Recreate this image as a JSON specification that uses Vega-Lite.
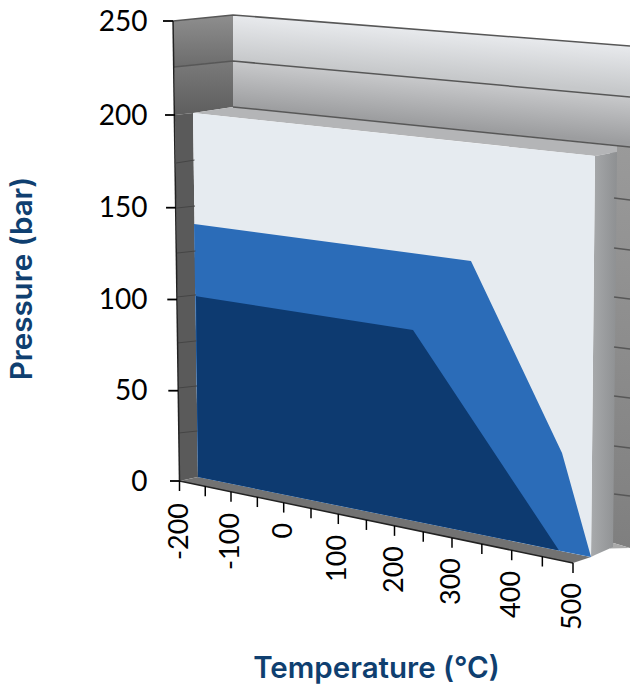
{
"$schema":"https://vega.github.io/schema/vega-lite/v6.json",
"width":630,"height":686,"padding":0,"autosize":"none",
"background":"white",
"config":{"view":{"stroke":null},"axis":{"grid":false}},
"datasets":{
"backUpper":[{"t":-96.2,"p":253.2,"p2":228.7},{"t":600,"p":236.7,"p2":209.6}],
"backLower":[{"t":-96.2,"p":228.7,"p2":204.3},{"t":600,"p":209.6,"p2":182.7}],
"backRight":[{"t":565,"p":183.9,"p2":-33},{"t":600,"p":182.7,"p2":-36.3}],
"backFloor":[{"t":565,"p":-33,"p2":-36.5},{"t":600,"p":-36.3,"p2":-36.3}],
"leftUpper":[{"t":-210.8,"p":250,"p2":250},{"t":-209.1,"p":250,"p2":225.5},{"t":-96.2,"p":253.2,"p2":228.7}],
"leftLower":[{"t":-209.1,"p":225.5,"p2":225.5},{"t":-207.5,"p":225.6,"p2":200},{"t":-173.8,"p":226.6,"p2":201.1},{"t":-96.2,"p":228.7,"p2":204.3}],
"leftStrip":[{"t":-207.5,"p":200,"p2":200},{"t":-200,"p":200.3,"p2":0},{"t":-173.8,"p":201.1,"p2":1.6},{"t":-164.1,"p":2.2,"p2":2.2}],
"topSurface":[{"t":-173.8,"p":201.1,"p2":201.1},{"t":-96.2,"p":204.3,"p2":198.8},{"t":538.6,"p":184.5,"p2":177.9},{"t":577.2,"p":183.3,"p2":180}],
"block":[{"t":531.6,"p":-41.1,"p2":-41.1},{"t":538.6,"p":177.9,"p2":-40.1},{"t":570.2,"p":179.7,"p2":-35.7},{"t":577.2,"p":180,"p2":180}],
"floor":[{"t":-200,"p":0,"p2":0},{"t":-164.1,"p":2.2,"p2":-2.1},{"t":500,"p":-39.2,"p2":-44.4},{"t":531.6,"p":-41.1,"p2":-41.1}],
"panel":[{"t":-173.8,"p":201.1,"p2":201.1},{"t":-164.1,"p":200.8,"p2":2.2},{"t":531.6,"p":178.1,"p2":-41.1},{"t":538.6,"p":177.9,"p2":177.9}],
"outerRegion":[{"t":-171.8,"p":141.1,"p2":141.1},{"t":-164.1,"p":140.8,"p2":2.2},{"t":331.8,"p":121,"p2":-27.9},{"t":482.1,"p":15.5,"p2":-38},{"t":531.6,"p":-41.1,"p2":-41.1}],
"innerRegion":[{"t":-168,"p":101.9,"p2":101.9},{"t":-164.1,"p":101.7,"p2":2.2},{"t":232.2,"p":83.3,"p2":-21.5},{"t":477.2,"p":-37.6,"p2":-37.6}],
"wallLines":[
{"id":"a","t":-210.8,"p":250},{"id":"a","t":-96.2,"p":253.2},{"id":"a","t":600,"p":236.7},
{"id":"b","t":-209.1,"p":225.5},{"id":"b","t":-96.2,"p":228.7},{"id":"b","t":600,"p":209.6},
{"id":"c","t":-96.2,"p":204.3},{"id":"c","t":600,"p":182.7},
{"id":"d","t":572,"p":155.2},{"id":"d","t":600,"p":154.2},
{"id":"e","t":572,"p":128},{"id":"e","t":600,"p":127},
{"id":"f","t":572,"p":101.4},{"id":"f","t":600,"p":100.3},
{"id":"g","t":572,"p":74},{"id":"g","t":600,"p":72.9},
{"id":"h","t":572,"p":47.1},{"id":"h","t":600,"p":46},
{"id":"i","t":572,"p":19.4},{"id":"i","t":600,"p":18.3},
{"id":"j","t":572,"p":-7},{"id":"j","t":600,"p":-8.1}],
"stripLines":[
{"id":"a","t":-205.8,"p":174.1},{"id":"a","t":-170.9,"p":175.7},
{"id":"b","t":-205,"p":149.8},{"id":"b","t":-169.9,"p":150.9},
{"id":"c","t":-204.2,"p":125.3},{"id":"c","t":-169,"p":126.4},
{"id":"d","t":-203.3,"p":101.4},{"id":"d","t":-168,"p":102.5},
{"id":"e","t":-202.5,"p":76.2},{"id":"e","t":-167,"p":77.3},
{"id":"f","t":-201.7,"p":51.5},{"id":"f","t":-166,"p":52.6},
{"id":"g","t":-200.8,"p":26.6},{"id":"g","t":-165,"p":27.7}],
"axisLines":[
{"id":"y","t":-210.8,"p":250},{"id":"y","t":-200,"p":0},
{"id":"x","t":-200,"p":0},{"id":"x","t":500,"p":-44.4}],
"pressureTicks":[
{"t":-227.6,"t2":-210.8,"p":250},{"t":-224.2,"t2":-207.5,"p":200},{"t":-222.5,"t2":-206.3,"p":150},
{"t":-220.4,"t2":-204.2,"p":100},{"t":-218.7,"t2":-202.5,"p":50},{"t":-215.9,"t2":-200,"p":0}],
"temperatureTicks":[
{"t":-200,"p":0,"p2":-5.4},{"t":-150,"p":-2.9,"p2":-8.3},{"t":-100,"p":-5.8,"p2":-11.2},{"t":-50,"p":-8.7,"p2":-14.1},
{"t":0,"p":-11.7,"p2":-17.1},{"t":50,"p":-14.8,"p2":-20.2},{"t":100,"p":-17.9,"p2":-23.3},{"t":150,"p":-21.1,"p2":-26.5},
{"t":200,"p":-24.3,"p2":-29.7},{"t":250,"p":-27.5,"p2":-32.9},{"t":300,"p":-30.8,"p2":-36.2},{"t":350,"p":-34.1,"p2":-39.5},
{"t":400,"p":-37.5,"p2":-42.9},{"t":450,"p":-40.9,"p2":-46.3},{"t":500,"p":-44.4,"p2":-49.8}],
"temperatureLabels":[
{"t":-200,"p":-11.9,"label":"-200"},{"t":-100,"p":-17.3,"label":"-100"},{"t":0,"p":-22.7,"label":"0"},{"t":100,"p":-29.2,"label":"100"},
{"t":200,"p":-35.2,"label":"200"},{"t":300,"p":-41.7,"label":"300"},{"t":400,"p":-48.7,"label":"400"},{"t":500,"p":-55.2,"label":"500"}]
},
"encoding":{
"x":{"field":"t","type":"quantitative","scale":{"domain":[-500,-200,-100,0,100,200,300,400,500,600],"range":[0,179.5,231,283.7,338.3,394.5,452,511.7,573,630],"nice":false,"zero":false},
"axis":{"title":"Temperature (°C)","labels":false,"ticks":false,"domain":false,"titleFont":"Inter","titleFontWeight":600,"titleFontSize":29.5,"titleColor":"#0f3f70","titleX":376,"titleY":-18,"titleAlign":"center","titleBaseline":"middle","titleAnchor":null}},
"y":{"field":"p","type":"quantitative","scale":{"domain":[-111,0,50,100,150,200,250,261.17],"range":[686,481,390.7,299.5,207.7,115,21,0],"nice":false,"zero":false},
"axis":{"title":"Pressure (bar)","values":[0,50,100,150,200,250],"ticks":false,"domain":false,"offset":-147,"labelPadding":0,"labelFont":"Lato","labelFontSize":28,"labelColor":"#000000","labelOffset":1,"labelBaseline":"middle","titleFont":"Inter","titleFontWeight":600,"titleFontSize":29.5,"titleColor":"#0f3f70","titleX":-125,"titleY":278,"titleAngle":-90,"titleAlign":"center","titleBaseline":"middle","titleAnchor":null}}
},
"layer":[
{"data":{"name":"backUpper"},"mark":{"type":"area","orient":"vertical","color":{"gradient":"linear","x1":0.186,"y1":0.07,"x2":0,"y2":0.561,"stops":[{"offset":0,"color":"#e8eaed"},{"offset":1,"color":"#c6c8ca"}]}},"encoding":{"y2":{"field":"p2"}}},
{"data":{"name":"backLower"},"mark":{"type":"area","orient":"vertical","color":{"gradient":"linear","x1":0.19,"y1":0.08,"x2":0,"y2":0.535,"stops":[{"offset":0,"color":"#c8c9cb"},{"offset":1,"color":"#9c9d9f"}]}},"encoding":{"y2":{"field":"p2"}}},
{"data":{"name":"backRight"},"mark":{"type":"area","orient":"vertical","color":{"gradient":"linear","x1":0,"y1":0,"x2":0,"y2":1,"stops":[{"offset":0,"color":"#9a9a9a"},{"offset":1,"color":"#7f7f7f"}]}},"encoding":{"y2":{"field":"p2"}}},
{"data":{"name":"backFloor"},"mark":{"type":"area","orient":"vertical","color":"#a9a9a9"},"encoding":{"y2":{"field":"p2"}}},
{"data":{"name":"leftUpper"},"mark":{"type":"area","orient":"vertical","color":{"gradient":"linear","x1":0,"y1":0,"x2":0,"y2":1,"stops":[{"offset":0,"color":"#8e8e8e"},{"offset":1,"color":"#6c6c6c"}]}},"encoding":{"y2":{"field":"p2"}}},
{"data":{"name":"leftLower"},"mark":{"type":"area","orient":"vertical","color":{"gradient":"linear","x1":0,"y1":0,"x2":0,"y2":1,"stops":[{"offset":0,"color":"#7a7a7a"},{"offset":1,"color":"#5e5e5e"}]}},"encoding":{"y2":{"field":"p2"}}},
{"data":{"name":"leftStrip"},"mark":{"type":"area","orient":"vertical","color":"#5a5a5a"},"encoding":{"y2":{"field":"p2"}}},
{"data":{"name":"topSurface"},"mark":{"type":"area","orient":"vertical","color":"#b4b5b7"},"encoding":{"y2":{"field":"p2"}}},
{"data":{"name":"block"},"mark":{"type":"area","orient":"vertical","color":{"gradient":"linear","x1":0,"y1":0,"x2":1,"y2":0,"stops":[{"offset":0,"color":"#a8aaac"},{"offset":1,"color":"#8e9092"}]}},"encoding":{"y2":{"field":"p2"}}},
{"data":{"name":"floor"},"mark":{"type":"area","orient":"vertical","color":"#727272"},"encoding":{"y2":{"field":"p2"}}},
{"data":{"name":"panel"},"mark":{"type":"area","orient":"vertical","color":"#e6ebf0"},"encoding":{"y2":{"field":"p2"}}},
{"data":{"name":"outerRegion"},"mark":{"type":"area","orient":"vertical","color":"#2b6cb8"},"encoding":{"y2":{"field":"p2"}}},
{"data":{"name":"innerRegion"},"mark":{"type":"area","orient":"vertical","color":"#0d3a70"},"encoding":{"y2":{"field":"p2"}}},
{"data":{"name":"wallLines"},"mark":{"type":"line","color":"#575757","strokeWidth":1.5},"encoding":{"detail":{"field":"id"},"order":{"field":"t","type":"quantitative"}}},
{"data":{"name":"stripLines"},"mark":{"type":"line","color":"#454545","strokeWidth":1},"encoding":{"detail":{"field":"id"},"order":{"field":"t","type":"quantitative"}}},
{"data":{"name":"axisLines"},"mark":{"type":"line","color":"#222222","strokeWidth":1.5},"encoding":{"detail":{"field":"id"}}},
{"data":{"name":"pressureTicks"},"mark":{"type":"rule","color":"#000000","strokeWidth":1.8},"encoding":{"x2":{"field":"t2"}}},
{"data":{"name":"temperatureTicks"},"mark":{"type":"rule","color":"#000000","strokeWidth":1.5},"encoding":{"y2":{"field":"p2"}}},
{"data":{"name":"temperatureLabels"},"mark":{"type":"text","angle":270,"align":"right","baseline":"middle","font":"Lato","fontSize":27,"color":"#000000"},"encoding":{"text":{"field":"label"}}}
]
}
